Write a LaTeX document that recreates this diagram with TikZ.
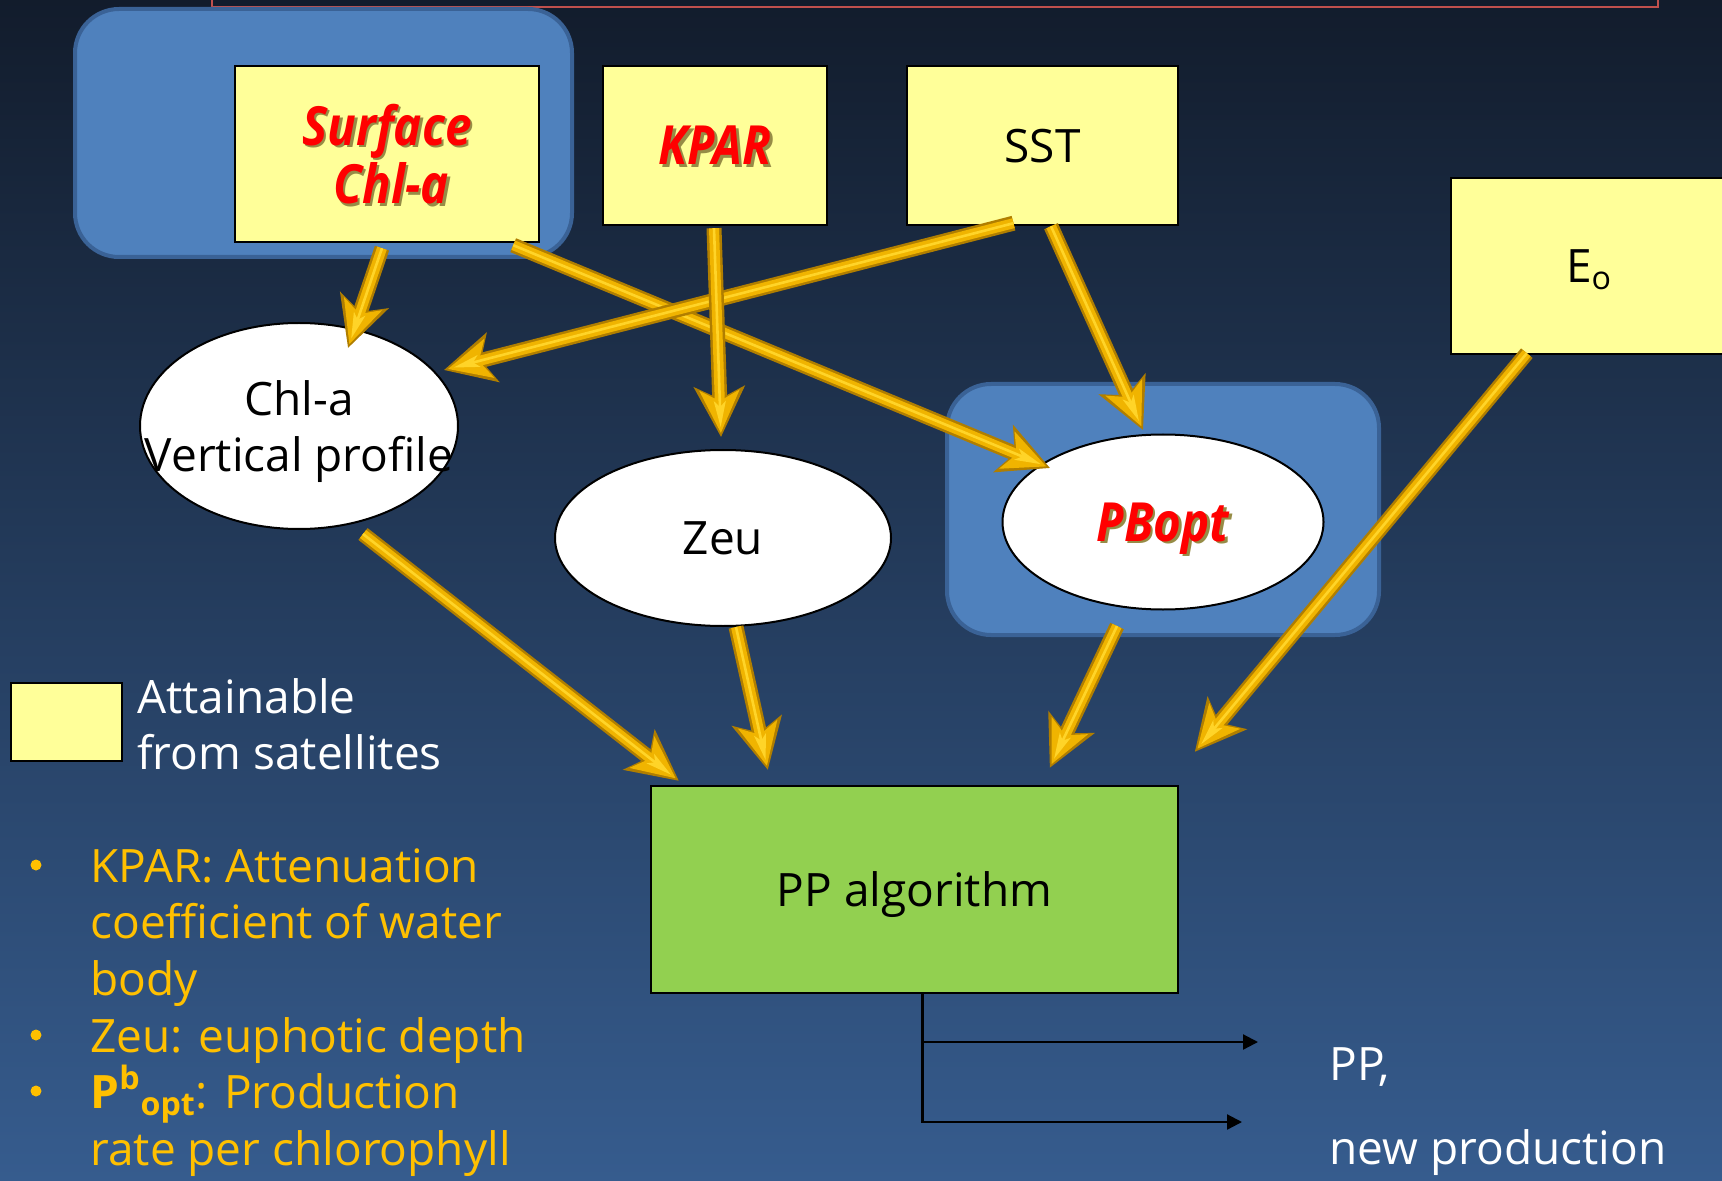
\documentclass[tikz,border=0pt]{standalone}
\usepackage{fontspec}
\setmainfont{Open Sans}
\newfontfamily\emphfont[FakeStretch=0.88]{Open Sans}
\usetikzlibrary{arrows.meta,shapes.geometric}

\definecolor{bgtop}{RGB}{18,28,44}
\definecolor{bgbottom}{RGB}{54,92,142}
\definecolor{panelblue}{RGB}{79,129,189}
\definecolor{paneledge}{RGB}{58,98,150}
\definecolor{paleyellow}{RGB}{255,255,153}
\definecolor{algogreen}{RGB}{146,208,80}
\definecolor{keyred}{RGB}{255,0,0}
\definecolor{textshadow}{RGB}{150,140,70}
\definecolor{golddark}{RGB}{176,126,0}
\definecolor{goldmid}{RGB}{240,180,0}
\definecolor{goldlight}{RGB}{255,212,40}
\definecolor{noteorange}{RGB}{255,192,0}
\definecolor{titleedge}{RGB}{192,80,77}

% red bold italic label with a soft drop shadow
\newcommand\keytext[1]{{\emphfont\bfseries\itshape\rlap{\kern1.3pt\raisebox{-1.3pt}{\textcolor{textshadow}{#1}}}\textcolor{keyred}{#1}}}

\tikzset{
  panel/.style={rectangle, fill=panelblue, draw=paneledge, line width=2pt, rounded corners=22pt, inner sep=0pt},
  satbox/.style={rectangle, draw=black, line width=1.2pt, fill=paleyellow, inner sep=0pt, align=center},
  oval/.style={ellipse, draw=black, line width=1pt, fill=white, inner sep=0pt, align=center, text depth=0pt},
  algobox/.style={rectangle, draw=black, line width=1.2pt, fill=algogreen, inner sep=0pt},
  keyfont/.style={font=\fontsize{27}{28}\selectfont},
  % bevelled gold arrow: dark rim, gold body, light ridge
  goldarrow/.style={line width=7.5pt, draw=golddark,
    -{Stealth[length=25pt, width=25pt, inset=6pt, fill=golddark]},
    postaction={draw=goldmid, line width=5pt,
      -{Stealth[length=21pt, width=19.5pt, inset=5pt, fill=goldmid]}, shorten >=2pt},
    postaction={draw=goldlight, line width=1.3pt,
      -{Stealth[length=13pt, width=6pt, inset=3pt, fill=goldlight]}, shorten >=5pt}},
  outarrow/.style={draw=black, line width=1.1pt, -{Triangle[length=7.5pt, width=7.5pt]}},
  whitelabel/.style={text=white, anchor=base west, inner sep=0pt},
  note/.style={text=noteorange, anchor=base west, inner sep=0pt},
  notedot/.style={circle, fill=noteorange, inner sep=0pt, minimum size=5.5pt}
}

\begin{document}
\begin{tikzpicture}[x=0.5pt, y=-0.5pt, font=\fontsize{23}{28}\selectfont]
\useasboundingbox (0,0) rectangle (1722,1181);
\clip (0,0) rectangle (1722,1181);

% backdrop
\shade[top color=bgtop, bottom color=bgbottom] (0,0) rectangle (1722,1181);

% title frame running off the top edge
\draw[titleedge, line width=1pt] (212,-20) rectangle (1658,7);

% highlight panels
\node[panel, minimum width=248.5pt, minimum height=124pt] (panelA) at (323.5,133) {};
\node[panel, minimum width=216pt, minimum height=125.5pt] (panelB) at (1163,509.5) {};

% satellite inputs
\node[satbox, keyfont, text depth=-4pt, minimum width=152pt, minimum height=88pt] (surf) at (387,154)
  {\keytext{Surface}\\\hspace*{4pt}\keytext{Chl-a}};
\node[satbox, keyfont, text depth=-2pt, minimum width=112pt, minimum height=79.5pt] (kpar) at (715,145.5) {\keytext{KPAR}};
\node[satbox, text depth=-2pt, minimum width=135.5pt, minimum height=79.5pt] (sst) at (1042.5,145.5) {SST};
\node[satbox, text depth=-2.5pt, minimum width=138pt, minimum height=88pt] (eo) at (1589,266) {E\textsubscript{o}};

% derived quantities
\node[oval, minimum width=159pt, minimum height=103pt] (chl) at (299,426)
  {\makebox[0pt]{Chl-a}\\\makebox[0pt]{Vertical profile}};
\node[oval, minimum width=168pt, minimum height=88pt] (zeu) at (723,538) {Zeu};
\node[oval, keyfont, minimum width=160.5pt, minimum height=87.5pt] (pbopt) at (1163,522) {\keytext{PBopt}};

% model
\node[algobox, text depth=-2.5pt, minimum width=263.5pt, minimum height=103.5pt] (pp) at (914.5,889.5) {PP algorithm};

% golden flow arrows
\draw[goldarrow] ([shift={(-5,5)}]surf.south) -- ([shift={(49,-78)}]chl.center);
\draw[goldarrow] ([shift={(-27,2)}]surf.south east) -- ([shift={(-113,-54)}]pbopt.center);
\draw[goldarrow] ([shift={(-29,-3)}]sst.south) -- ([shift={(145,-56)}]chl.center);
\draw[goldarrow] ([shift={(-1,2)}]kpar.south) -- ([shift={(-2,-101)}]zeu.center);
\draw[goldarrow] ([shift={(8.5,0)}]sst.south) -- ([shift={(-20,-92)}]pbopt.center);
\draw[goldarrow] ([shift={(64,108)}]chl.center) -- ([shift={(29,-4)}]pp.north west);
\draw[goldarrow] ([shift={(13,89)}]zeu.center) -- ([shift={(118,-15)}]pp.north west);
\draw[goldarrow] ([shift={(-46,104)}]pbopt.center) -- ([shift={(400,-17)}]pp.north west);
\draw[goldarrow] ([shift={(77,-2)}]eo.south west) -- ([shift={(545,-33)}]pp.north west);

% outputs
\node[whitelabel] (ppl) at (1329,1080) {PP,};
\node[whitelabel] (newprod) at (1329,1164) {new production};
\coordinate (tap) at ([shift={(8,0)}]pp.south);
\coordinate (out1) at (1258,1042);
\coordinate (out2) at (1242,1122);
\draw[outarrow] (tap) |- (out2);
\draw[outarrow] (tap |- out1) -- (out1);

% legend
\node[satbox, minimum width=55.5pt, minimum height=39pt] (legend) at (66.5,722) {};
\node[whitelabel] (att1) at (137,713) {Attainable};
\node[whitelabel] (att2) at (137,769) {from satellites};

% abbreviations
\node[notedot] (dot1) at (36,865) {};
\node[note] (kp1) at (90,882) {KPAR: Attenuation};
\node[note] (kp2) at (90,938) {coefficient of water};
\node[note] (kp3) at (90,995) {body};
\node[notedot] (dot2) at (36,1035) {};
\node[note] (ze1) at (90,1052) {Zeu: euphotic depth};
\node[notedot] (dot3) at (36,1091) {};
\node[note] (pb1) at (90,1108) {\textbf{P}\textsuperscript{\textbf{b}}\textsubscript{\textbf{opt}}: Production};
\node[note] (pb2) at (90,1165) {rate per chlorophyll};
\end{tikzpicture}
\end{document}
